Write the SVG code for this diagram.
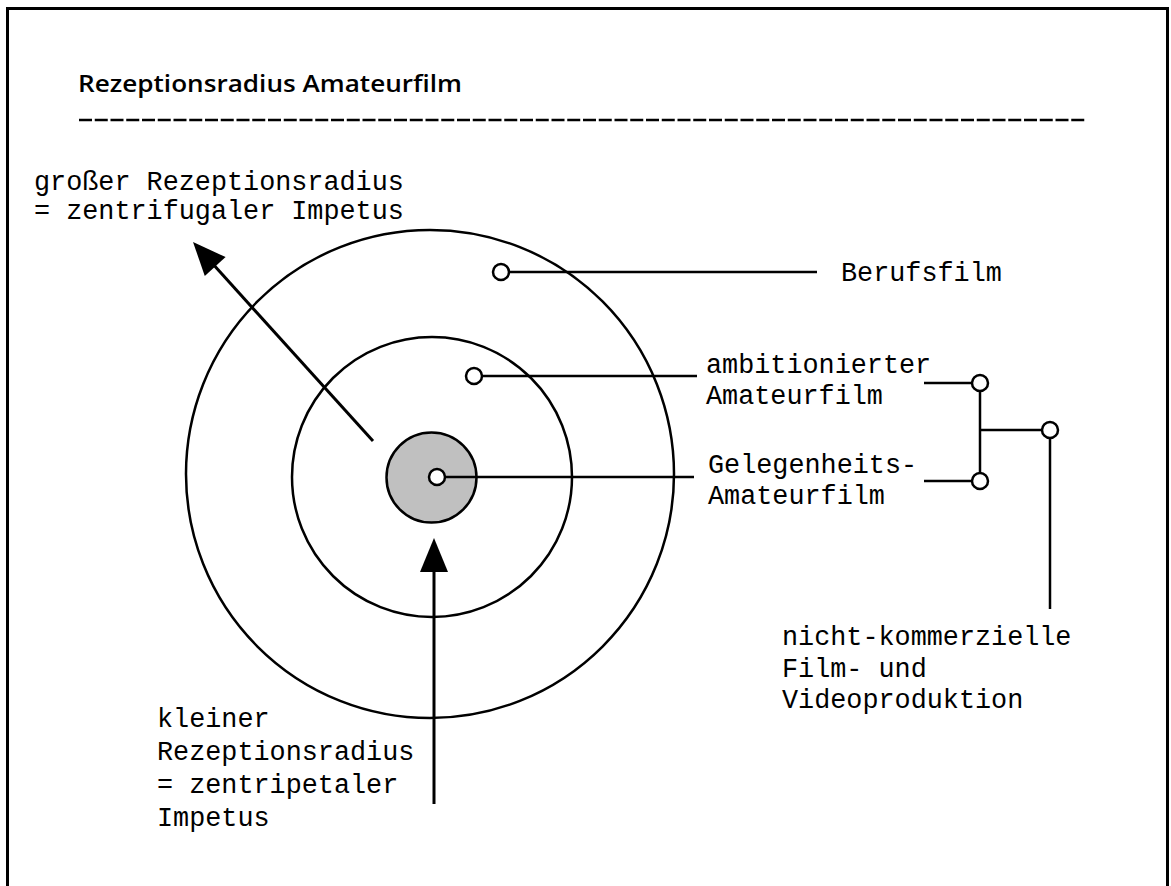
<svg xmlns="http://www.w3.org/2000/svg" width="1171" height="886" viewBox="0 0 1171 886">
<style>
.mono{font-family:"Liberation Mono","Courier New",monospace;font-size:26.8px;fill:#000}
.title{font-family:"Open Sans","Liberation Sans",sans-serif;font-weight:600;font-size:24px;fill:#000}
.ring{fill:none;stroke:#000;stroke-width:2.5}
.dot{fill:#fff;stroke:#000;stroke-width:2.5}
.ln{stroke:#000;stroke-width:2.5;fill:none}
.shaft{stroke:#000;stroke-width:3;fill:none}
</style>
<rect width="1171" height="886" fill="#fff"/>
<path d="M7.5,886 V8.5 H1167.5 V886" fill="none" stroke="#000" stroke-width="3"/>
<g id="title">
<text class="title" x="78" y="92" textLength="384" lengthAdjust="spacingAndGlyphs">Rezeptionsradius Amateurfilm</text>
<line x1="79" y1="120" x2="1087" y2="120" stroke="#000" stroke-width="2.5" stroke-dasharray="13 2.75"/>
</g>
<g id="rings">
<circle id="outer" class="ring" cx="430" cy="474" r="244"/>
<circle id="middle" class="ring" cx="432" cy="477" r="140"/>
<circle id="core" cx="431.5" cy="477.5" r="45" fill="#c0c0c0" stroke="#000" stroke-width="2.5"/>
</g>
<g id="connectors">
<line class="ln" x1="509" y1="272" x2="817" y2="272"/>
<line class="ln" x1="482" y1="376" x2="697" y2="376"/>
<line class="ln" x1="445" y1="477" x2="694" y2="477"/>
<line class="ln" x1="924" y1="383" x2="972" y2="383"/>
<line class="ln" x1="924" y1="481" x2="972" y2="481"/>
<line class="ln" x1="980" y1="391" x2="980" y2="473"/>
<line class="ln" x1="980" y1="430" x2="1042" y2="430"/>
<line class="ln" x1="1050" y1="438" x2="1050" y2="609"/>
<line class="shaft" x1="373" y1="441" x2="212" y2="263"/>
<polygon points="193,242 225.6,257.1 204.8,275.9" fill="#000"/>
<line class="shaft" x1="434" y1="804" x2="434" y2="568"/>
<polygon points="434,538 448,572 420,572" fill="#000"/>
</g>
<g id="dot-berufsfilm"><circle class="dot" cx="501" cy="272" r="8"/></g>
<g id="dot-ambitioniert"><circle class="dot" cx="474" cy="376" r="8"/></g>
<g id="dot-gelegenheit"><circle class="dot" cx="437" cy="477" r="8"/></g>
<g id="dot-top"><circle class="dot" cx="980" cy="383" r="8"/></g>
<g id="dot-bottom"><circle class="dot" cx="980" cy="481" r="8"/></g>
<g id="dot-mid"><circle class="dot" cx="1050" cy="430" r="8"/></g>
<g id="label-gross">
<text class="mono" x="34" y="190">großer Rezeptionsradius</text>
<text class="mono" x="34" y="219">= zentrifugaler Impetus</text>
</g>
<g id="label-berufsfilm"><text class="mono" x="841" y="281">Berufsfilm</text></g>
<g id="label-ambitioniert">
<text class="mono" x="706" y="373">ambitionierter</text>
<text class="mono" x="706" y="404">Amateurfilm</text>
</g>
<g id="label-gelegenheit">
<text class="mono" x="708" y="473">Gelegenheits-</text>
<text class="mono" x="708" y="504">Amateurfilm</text>
</g>
<g id="label-nk">
<text class="mono" x="782" y="645">nicht-kommerzielle</text>
<text class="mono" x="782" y="677">Film- und</text>
<text class="mono" x="782" y="708">Videoproduktion</text>
</g>
<g id="label-klein">
<text class="mono" x="157" y="727">kleiner</text>
<text class="mono" x="157" y="760">Rezeptionsradius</text>
<text class="mono" x="157" y="793">= zentripetaler</text>
<text class="mono" x="157" y="826">Impetus</text>
</g>
</svg>
